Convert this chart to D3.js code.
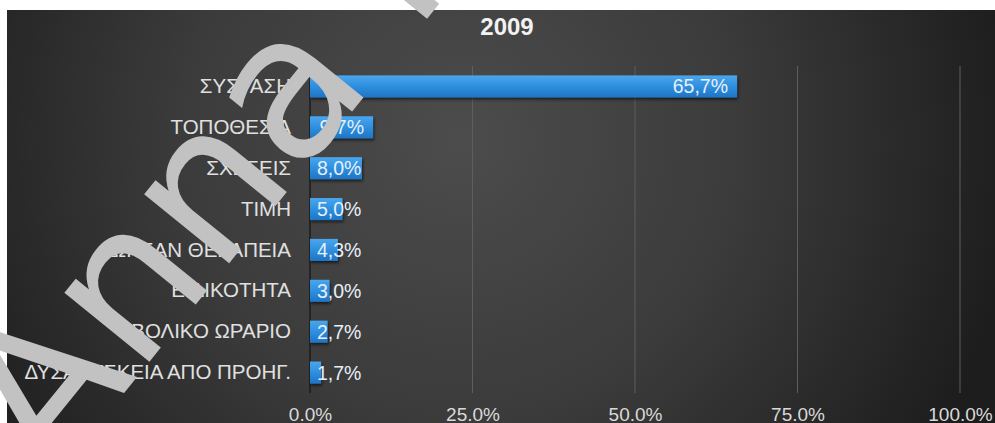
<!DOCTYPE html>
<html>
<head>
<meta charset="utf-8">
<script src="https://cdn.jsdelivr.net/npm/d3@7"></script>
<style>
  body { margin: 0; background: #fff; }
  svg { display: block; font-family: "Liberation Sans", Arial, sans-serif; }
</style>
</head>
<body>
<div id="plot"></div>
<script>
const categories = ["ΣΥΣΤΑΣΗ", "ΤΟΠΟΘΕΣΙΑ", "ΣΧΕΣΕΙΣ", "ΤΙΜΗ", "ΔΩΡΕΑΝ ΘΕΡΑΠΕΙΑ", "ΕΙΔΙΚΟΤΗΤΑ", "ΒΟΛΙΚΟ ΩΡΑΡΙΟ", "ΔΥΣΑΡΕΣΚΕΙΑ ΑΠΟ ΠΡΟΗΓ."];
const values = [65.7, 9.7, 8.0, 5.0, 4.3, 3.0, 2.7, 1.7];
const xTicks = [0, 25, 50, 75, 100];
const title = "2009";

const width = 995, height = 423;
const data = categories.map((c, i) => ({ cat: c, val: values[i] }));

const svg = d3.select("#plot")
  .append("svg")
    .attr("width", width)
    .attr("height", height);

const defs = svg.append("defs");

// background gradient
const bg = defs.append("radialGradient")
    .attr("id", "bg")
    .attr("gradientUnits", "userSpaceOnUse")
    .attr("cx", 460).attr("cy", 140).attr("r", 560);
bg.append("stop").attr("offset", "0").attr("stop-color", "#4c4c4c");
bg.append("stop").attr("offset", "0.5").attr("stop-color", "#3b3b3b");
bg.append("stop").attr("offset", "1").attr("stop-color", "#1d1d1d");

// bar gradient
const barGrad = defs.append("linearGradient")
    .attr("id", "barGrad")
    .attr("x1", 0).attr("y1", 0).attr("x2", 0).attr("y2", 1);
barGrad.append("stop").attr("offset", "0").attr("stop-color", "#4aa6ee");
barGrad.append("stop").attr("offset", "0.5").attr("stop-color", "#2e8fde");
barGrad.append("stop").attr("offset", "1").attr("stop-color", "#1f74c4");

const shadow = defs.append("filter").attr("id", "shadow")
    .attr("x", "-10%").attr("y", "-30%").attr("width", "130%").attr("height", "180%");
shadow.append("feDropShadow")
    .attr("dx", 1).attr("dy", 2).attr("stdDeviation", 1.5)
    .attr("flood-color", "#000").attr("flood-opacity", 0.6);

svg.append("rect")
    .attr("x", 7).attr("y", 10)
    .attr("width", width - 7).attr("height", height - 10)
    .attr("fill", "url(#bg)");

const xScale = d3.scaleLinear().domain([0, 100]).range([310, 960]);
const yScale = d3.scaleBand().domain(categories).range([66, 393]).paddingInner(0.46).paddingOuter(0.23);

// gridlines
svg.append("g")
  .selectAll("line")
  .data(xTicks.filter(d => d > 0))
  .join("line")
    .attr("x1", d => xScale(d)).attr("x2", d => xScale(d))
    .attr("y1", 66).attr("y2", 393)
    .attr("stroke", "#5e5e5e")
    .attr("stroke-width", 1);

// x axis labels
const xAxis = svg.append("g")
    .attr("transform", `translate(0,404)`)
    .call(d3.axisBottom(xScale).tickValues(xTicks).tickFormat(d => d3.format(".1f")(d) + "%").tickSize(0));
xAxis.select(".domain").remove();
xAxis.selectAll("text")
    .attr("fill", "#d9d9d9")
    .attr("font-size", 19)
    .attr("font-family", "Liberation Sans, Arial, sans-serif");

// y axis
const yAxis = svg.append("g")
    .attr("transform", `translate(310,0)`)
    .call(d3.axisLeft(yScale).tickSize(0).tickPadding(19));
yAxis.select(".domain")
    .attr("stroke", "#1b1b1b")
    .attr("stroke-width", 1.5)
    .attr("d", "M0,66V393");
yAxis.selectAll("text")
    .attr("fill", "#e0e0e0")
    .attr("font-size", 20.5)
    .attr("font-family", "Liberation Sans, Arial, sans-serif");

// bars
svg.append("g")
  .selectAll("rect")
  .data(data)
  .join("rect")
    .attr("x", xScale(0))
    .attr("y", d => yScale(d.cat))
    .attr("width", d => xScale(d.val) - xScale(0))
    .attr("height", yScale.bandwidth())
    .attr("fill", "url(#barGrad)")
    .attr("filter", "url(#shadow)");

// value labels
const fmt = d => d3.format(".1f")(d).replace(".", ",") + "%";
svg.append("g")
  .selectAll("text")
  .data(data)
  .join("text")
    .attr("y", d => yScale(d.cat) + yScale.bandwidth() / 2)
    .attr("dy", "0.36em")
    .attr("font-size", 19.5)
    .attr("fill", "#e6f0fa")
    .text(d => fmt(d.val))
    .each(function (d) {
      const w = this.getComputedTextLength();
      const barW = xScale(d.val) - xScale(0);
      if (w + 16 < barW) {
        d3.select(this).attr("x", xScale(d.val) - 9).attr("text-anchor", "end");
      } else {
        d3.select(this).attr("x", xScale(0) + 7).attr("text-anchor", "start");
      }
    });

// title
svg.append("text")
    .attr("x", 507).attr("y", 35)
    .attr("text-anchor", "middle")
    .attr("font-size", 24)
    .attr("font-weight", "bold")
    .attr("fill", "#f2f2f2")
    .text(title);

// watermark
svg.append("text")
    .attr("transform", "translate(52,482) rotate(-51)")
    .attr("font-size", 200)
    .attr("font-family", "DejaVu Sans, sans-serif")
    .attr("fill", "#c2c2c2")
    .text("Anna M");
</script>
</body>
</html>
